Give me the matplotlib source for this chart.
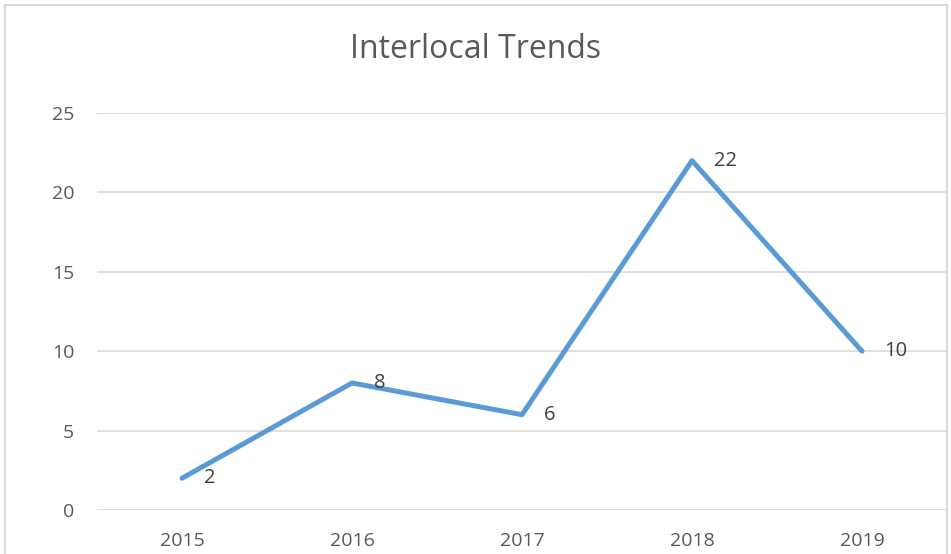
import matplotlib
matplotlib.use("Agg")
import matplotlib.pyplot as plt
from matplotlib.patches import Rectangle

years = ["2015", "2016", "2017", "2018", "2019"]
values = [2, 8, 6, 22, 10]
yticks = [0, 5, 10, 15, 20, 25]

plt.rcParams['font.family'] = ['Open Sans', 'DejaVu Sans']
text_color = "#595959"
grid_color = "#D9D9D9"
line_color = "#5B9BD5"

fig = plt.figure(figsize=(9.51, 5.54), dpi=100)
W, H = 951, 554
ax = fig.add_axes([97 / W, (H - 510) / H, (947 - 97) / W, (510 - 113) / H])

x = list(range(len(years)))
ax.plot(x, values, color=line_color, lw=3.6, solid_capstyle='round',
        solid_joinstyle='round', zorder=3)
for xi, v in zip(x, values):
    ax.annotate(str(v), (xi, v), xytext=(16, 0), textcoords='offset points',
                ha='left', va='center', fontsize=14.5, color="#404040", zorder=4)

ax.set_xlim(-0.5, len(years) - 0.5)
ax.set_ylim(0, 25)
ax.set_yticks(yticks)
ax.set_xticks(x)
ax.set_xticklabels(years)
ax.yaxis.grid(True, color=grid_color, lw=1.2)
ax.set_axisbelow(True)
for s in ax.spines.values():
    s.set_visible(False)
ax.tick_params(axis='both', length=0, labelsize=14, labelcolor=text_color)
ax.tick_params(axis='y', pad=16.5)
ax.tick_params(axis='x', pad=16)

fig.text(476 / W, 1 - 50 / H, "Interlocal Trends", ha='center', va='center',
         fontsize=23, color=text_color)

fig.patches.append(Rectangle((5 / W, -0.05), (947 - 5) / W, 1.05 - 5 / H,
                             transform=fig.transFigure, fill=False,
                             edgecolor=grid_color, lw=1.5, zorder=10))

fig.savefig("out.png", dpi=100)
